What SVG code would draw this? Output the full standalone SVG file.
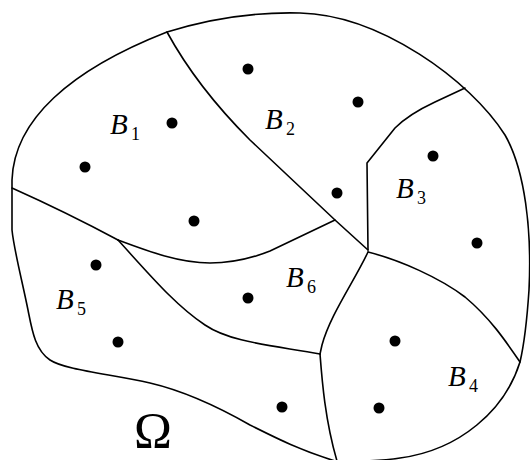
<svg xmlns="http://www.w3.org/2000/svg" width="530" height="460" viewBox="0 0 530 460">
<style>
.ln{fill:none;stroke:#000;stroke-width:1.6;stroke-linejoin:round;stroke-linecap:round}
.dot{fill:#000}
.b{font-family:"Liberation Serif","DejaVu Serif",serif;font-style:italic;font-size:29px;fill:#000}
.s{font-family:"Liberation Serif","DejaVu Serif",serif;font-size:18px;fill:#000}
.om{font-family:"Liberation Serif","DejaVu Serif",serif;font-size:51px;fill:#000}
</style>
<rect width="530" height="460" fill="#fff"/>
<g id="connectors">
<path class="ln" d="M12,230 L12,180 C14,120 70,70 167,32 C215,17 260,12 300,13 C380,15 470,80 505,135 C525,170 532,230 529,290 C527,320 524,345 520,362 C505,410 460,450 400,458 C380,461 350,462 335,461 C300,450 280,440 250,425 C215,405 180,390 150,383 C110,374 65,370 50,360 C35,350 32,330 28,310 C22,280 14,250 12,230 Z"/>
<path class="ln" d="M12,188 C50,205 90,225 118,240"/>
<path class="ln" d="M118,240 C150,252 180,263 210,263 C235,263 255,257 270,251 L335,220"/>
<path class="ln" d="M167,32 C185,65 210,100 250,140 L335,220 L368,250"/>
<path class="ln" d="M465,88 L435,102 C420,109 405,118 395,128 L367,163 L368,250"/>
<path class="ln" d="M368,252 C400,260 440,278 465,297 C490,318 505,340 520,362"/>
<path class="ln" d="M368,252 C355,280 330,315 322,345 L320,354"/>
<path class="ln" d="M118,240 C150,275 175,305 205,325 C230,342 270,345 320,354"/>
<path class="ln" d="M320,354 C322,380 325,420 337,461"/>
</g>
<g id="B1">
<circle class="dot" cx="172" cy="123" r="5.5"/>
<circle class="dot" cx="85" cy="167" r="5.5"/>
<circle class="dot" cx="194" cy="221" r="5.5"/>
<text class="b" x="110" y="134">B</text><text class="s" x="131" y="140">1</text>
</g>
<g id="B2">
<circle class="dot" cx="248" cy="69" r="5.5"/>
<circle class="dot" cx="358" cy="102" r="5.5"/>
<circle class="dot" cx="337" cy="193" r="5.5"/>
<text class="b" x="265" y="129">B</text><text class="s" x="286" y="135">2</text>
</g>
<g id="B3">
<circle class="dot" cx="433" cy="156" r="5.5"/>
<circle class="dot" cx="477" cy="243" r="5.5"/>
<text class="b" x="396" y="198">B</text><text class="s" x="417" y="204">3</text>
</g>
<g id="B4">
<circle class="dot" cx="395" cy="341" r="5.5"/>
<circle class="dot" cx="379" cy="408" r="5.5"/>
<text class="b" x="448" y="386">B</text><text class="s" x="469" y="392">4</text>
</g>
<g id="B5">
<circle class="dot" cx="96" cy="265" r="5.5"/>
<circle class="dot" cx="118" cy="342" r="5.5"/>
<circle class="dot" cx="282" cy="407" r="5.5"/>
<text class="b" x="56" y="309">B</text><text class="s" x="77" y="315">5</text>
</g>
<g id="B6">
<circle class="dot" cx="248" cy="298" r="5.5"/>
<text class="b" x="286" y="287">B</text><text class="s" x="307" y="293">6</text>
</g>
<g id="Omega">
<text class="om" x="134" y="447">Ω</text>
</g>
</svg>
